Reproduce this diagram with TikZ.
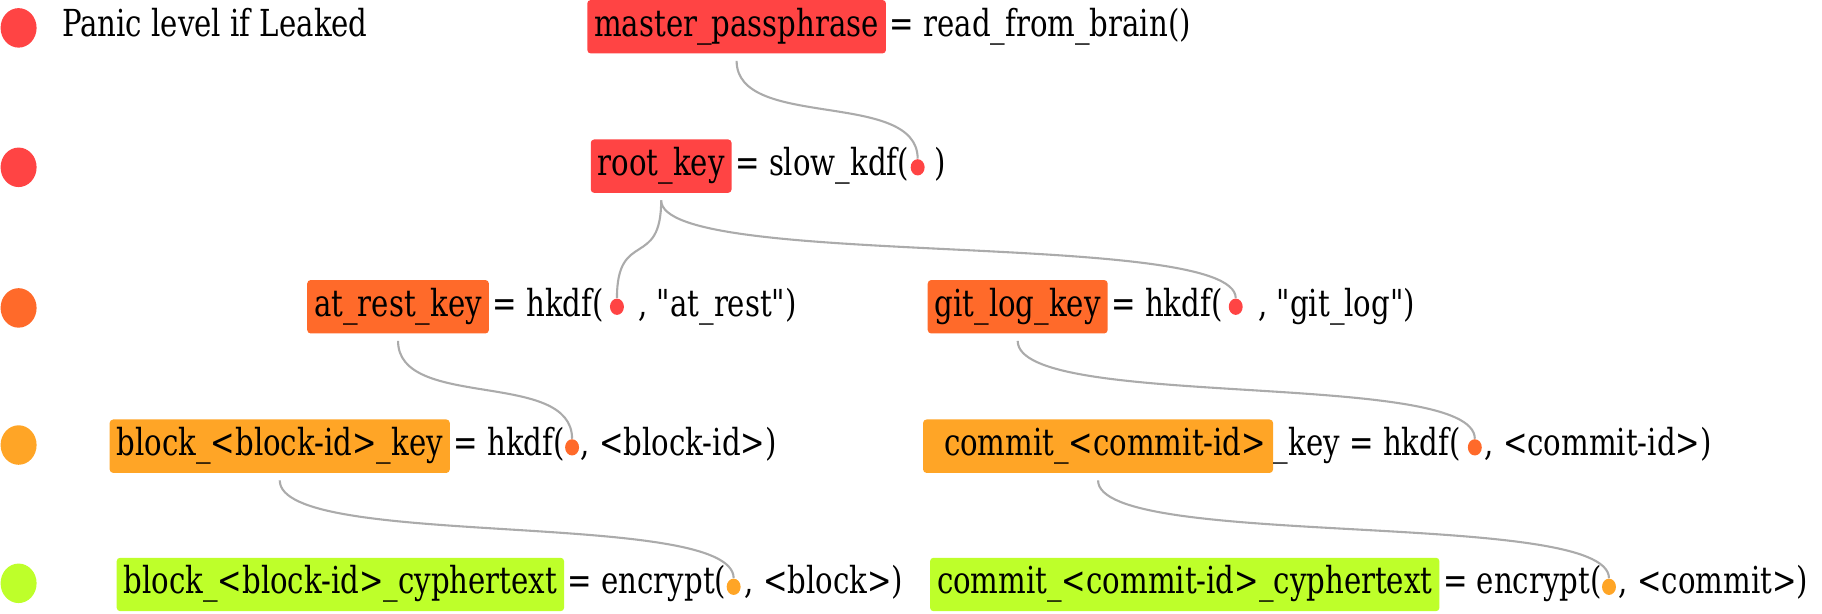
\documentclass[tikz,border=0pt]{standalone}
\usepackage{fontspec}
\newfontfamily\dvs[FakeStretch=0.785]{DejaVu Serif}
\usetikzlibrary{shapes.geometric}
\definecolor{cRed}{HTML}{FF4444}
\definecolor{cOrRed}{HTML}{FF6A2A}
\definecolor{cOrange}{HTML}{FFA526}
\definecolor{cLime}{HTML}{BEFF2A}
\definecolor{cLink}{HTML}{ABABAB}
\begin{document}
\begin{tikzpicture}[x=0.5pt,y=-0.5pt,
  every node/.style={font=\dvs\fontsize{16pt}{19pt}\selectfont},
  txt/.style={inner sep=0pt, text height=0.8em, text depth=0pt},
  keybox/.style={txt, rounded corners=1.5pt, inner xsep=3pt, minimum height=23pt, anchor=west},
  dotn/.style={ellipse, inner sep=0pt, minimum width=6pt, minimum height=7pt},
  legend/.style={ellipse, inner sep=0pt, minimum width=15.5pt, minimum height=17pt},
  link/.style={draw=cLink, line width=0.9pt},
  after/.style={txt, anchor=base west}]
\useasboundingbox (0,0) rectangle (1568,528);

% legend
\node[legend, fill=cRed] (l1) at (16,24) {};
\node[legend, fill=cRed] (l2) at (16,144) {};
\node[legend, fill=cOrRed] (l3) at (16,265) {};
\node[legend, fill=cOrange] (l4) at (16,383) {};
\node[legend, fill=cLime] (l5) at (16,502) {};
\node[txt, anchor=west] (title) at (53,23) {Panic level if Leaked};

% row 1
\node[keybox, fill=cRed] (mp) at (505,23) {master\_passphrase};
\node[after] (mpa) at ([xshift=1.2pt]mp.base east) {= read\_from\_brain()};

% row 2
\node[keybox, fill=cRed] (rk) at (508,143) {root\_key};
\node[after] (rka) at ([xshift=1.2pt]rk.base east) {= slow\_kdf(};
\node[dotn, fill=cRed] (rkd) at ([shift={(7,1)}]rka.east) {};
\node[after] (rkc) at ([shift={(21,0)}]rka.base east) {)};

% row 3
\node[keybox, fill=cOrRed] (ar) at (264,264) {at\_rest\_key};
\node[after] (ara) at ([xshift=1.2pt]ar.base east) {= hkdf(};
\node[dotn, fill=cRed] (ard) at ([shift={(11,0)}]ara.east) {};
\node[after] (arc) at ([shift={(29,0)}]ara.base east) {, "at\_rest")};

\node[keybox, fill=cOrRed] (gl) at (798,264) {git\_log\_key};
\node[after] (gla) at ([xshift=1.2pt]gl.base east) {= hkdf(};
\node[dotn, fill=cRed] (gld) at ([shift={(11,0)}]gla.east) {};
\node[after] (glc) at ([shift={(30,0)}]gla.base east) {, "git\_log")};

% row 4
\node[keybox, fill=cOrange] (bk) at (94,384) {block\_<block-id>\_key};
\node[after] (bka) at ([xshift=1.2pt]bk.base east) {= hkdf(};
\node[dotn, fill=cOrRed] (bkd) at ([shift={(6,1)}]bka.east) {};
\node[after] (bkc) at ([shift={(13,0)}]bka.base east) {, <block-id>)};

\node[keybox, fill=cOrange] (ck) at (794,384) {\hspace{6pt}commit\_<commit-id>};
\node[after] (cka) at (ck.base east) {\_key = hkdf(};
\node[dotn, fill=cOrRed] (ckd) at ([shift={(12,1)}]cka.east) {};
\node[after] (ckc) at ([shift={(20,0)}]cka.base east) {, <commit-id>)};

% row 5
\node[keybox, fill=cLime] (bc) at (100,503) {block\_<block-id>\_cyphertext};
\node[after] (bca) at ([xshift=1.2pt]bc.base east) {= encrypt(};
\node[dotn, fill=cOrange] (bcd) at ([shift={(6,2)}]bca.east) {};
\node[after] (bcc) at ([shift={(15,0)}]bca.base east) {, <block>)};

\node[keybox, fill=cLime] (cc) at (800,503) {commit\_<commit-id>\_cyphertext};
\node[after] (cca) at ([xshift=1.2pt]cc.base east) {= encrypt(};
\node[dotn, fill=cOrange] (ccd) at ([shift={(6,2)}]cca.east) {};
\node[after] (ccc) at ([shift={(14,0)}]cca.base east) {, <commit>)};

% links
\draw[link] ([yshift=-3pt]mp.south) .. controls +(0,60) and +(0,-60) .. (rkd.north);
\draw[link] ([yshift=-3pt]rk.south) .. controls +(0,60) and +(0,-60) .. (ard.north);
\draw[link] ([yshift=-3pt]rk.south) .. controls +(0,60) and +(0,-60) .. (gld.north);
\draw[link] ([yshift=-3pt]ar.south) .. controls +(0,60) and +(0,-60) .. (bkd.north);
\draw[link] ([yshift=-3pt]gl.south) .. controls +(0,60) and +(0,-60) .. (ckd.north);
\draw[link] ([yshift=-3pt]bk.south) .. controls +(0,60) and +(0,-60) .. (bcd.north);
\draw[link] ([yshift=-3pt]ck.south) .. controls +(0,60) and +(0,-60) .. (ccd.north);
\end{tikzpicture}
\end{document}
